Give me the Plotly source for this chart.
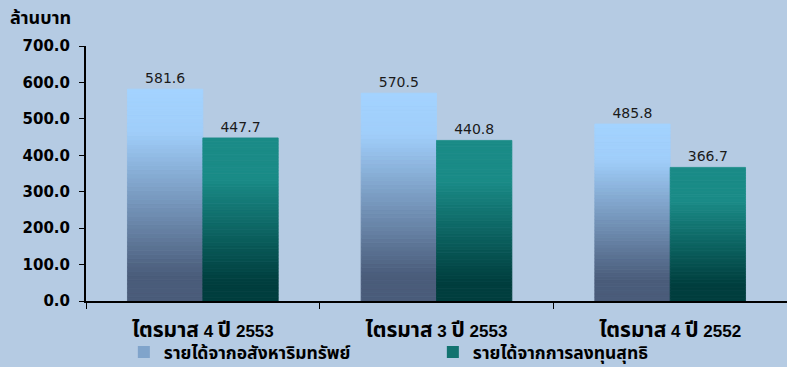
import re
import plotly.graph_objects as go

categories = ["ไตรมาส 4 ปี 2553", "ไตรมาส 3 ปี 2553", "ไตรมาส 4 ปี 2552"]
series_names = ["รายได้จากอสังหาริมทรัพย์", "รายได้จากการลงทุนสุทธิ"]
derivatives = [581.6, 570.5, 485.8]
investment = [447.7, 440.8, 366.7]
y_ticks = [0, 100, 200, 300, 400, 500, 600, 700]
y_title = "ล้านบาท"

# gradient stops (fraction of bar height from bottom, rgb)
grad_light = [(0.0, (74, 92, 122)), (0.12, (74, 92, 122)), (0.8, (160, 206, 250)), (1.0, (163, 211, 255))]
grad_dark = [(0.0, (0, 62, 62)), (0.12, (0, 62, 62)), (0.75, (26, 139, 135)), (1.0, (26, 139, 135))]

def color_at(stops, t):
    for (t0, c0), (t1, c1) in zip(stops, stops[1:]):
        if t <= t1:
            f = 0 if t1 == t0 else (t - t0) / (t1 - t0)
            c = [round(a + (b - a) * f) for a, b in zip(c0, c1)]
            return "rgb(%d,%d,%d)" % tuple(c)
    return "rgb(%d,%d,%d)" % stops[-1][1]

def thai_big(s, px):
    return re.sub(r"([\u0E00-\u0E7F]+)", r"<span style='font-size:%dpx'>\1</span>" % px, s)

N = 50
NUM_FONT = "DejaVu Sans, Noto Sans Thai, sans-serif"
CAT_FONT = "Liberation Sans, Noto Sans Thai, sans-serif"
THAI_FONT = "Noto Sans Thai, DejaVu Sans, sans-serif"
fig = go.Figure()
for s, (vals, stops) in enumerate([(derivatives, grad_light), (investment, grad_dark)]):
    for k in range(N):
        last = k == N - 1
        col = color_at(stops, (k + 0.5) / N)
        fig.add_trace(go.Bar(
            x=categories,
            y=[v / N for v in vals],
            base=[v * k / N for v in vals],
            offsetgroup=str(s),
            marker=dict(color=col, line=dict(width=0.8, color=col)),
            text=["%.1f" % v for v in vals] if last else None,
            textposition="outside" if last else "none",
            textfont=dict(family=NUM_FONT, size=14, color="#1a1a1a"),
            cliponaxis=False,
            showlegend=False,
            hoverinfo="skip",
        ))
    # legend entry
    fig.add_trace(go.Bar(
        x=[None], y=[None], name=series_names[s],
        marker=dict(color=color_at(stops, 0.55), line=dict(width=0)),
        offsetgroup=str(s), showlegend=True,
    ))

fig.update_layout(
    width=787, height=367,
    margin=dict(l=86, r=0, t=46, b=66, autoexpand=False),
    paper_bgcolor="#B5CBE3", plot_bgcolor="#B5CBE3",
    barmode="group", bargap=0.355, bargroupgap=0,
    font=dict(family=NUM_FONT, color="#000000"),
    showlegend=True,
    legend=dict(orientation="h", x=0.054, y=-0.2, xanchor="left", yanchor="middle",
                font=dict(family=THAI_FONT, size=17.5, color="#000000", weight="bold"),
                entrywidth=264, entrywidthmode="pixels", itemwidth=30,
                bgcolor="rgba(0,0,0,0)", traceorder="normal"),
    annotations=[dict(text="<b>" + y_title + "</b>", xref="paper", yref="paper",
                      x=-0.111, y=1.0, yshift=28, xanchor="left", yanchor="middle",
                      showarrow=False, font=dict(family=THAI_FONT, size=18, color="#000000"))],
)
fig.update_yaxes(
    range=[0, 700], tickvals=y_ticks, ticktext=["%.1f" % v for v in y_ticks],
    showgrid=False, zeroline=False,
    showline=True, linecolor="black", linewidth=2,
    ticks="outside", ticklen=5, tickcolor="black", tickwidth=1,
    ticklabelstandoff=6,
    tickfont=dict(family=NUM_FONT, size=15, color="#000000", weight="bold"),
)
fig.update_xaxes(
    tickvals=categories, ticktext=[thai_big(c, 21) for c in categories],
    showgrid=False, showline=True, linecolor="black", linewidth=2,
    ticks="outside", tickson="boundaries", ticklen=6, tickcolor="black",
    ticklabelstandoff=14,
    tickfont=dict(family=CAT_FONT, size=17, color="#000000", weight="bold"),
)
fig.write_html("out.html")
